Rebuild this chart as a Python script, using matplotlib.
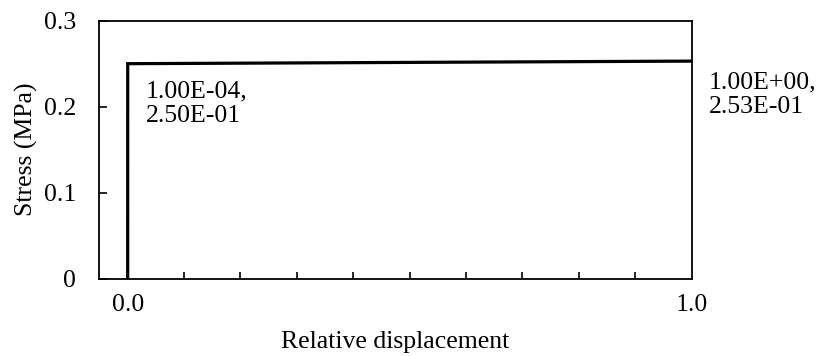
import matplotlib
matplotlib.use("Agg")
import matplotlib.pyplot as plt
from matplotlib.ticker import MultipleLocator, FixedLocator

plt.rcParams['font.family'] = ['Liberation Serif', 'DejaVu Serif']
plt.rcParams['font.size'] = 18.5

# data
displacement = [0.0, 1.0e-4, 1.0]
stress = [0.0, 0.25, 0.253]
label_first = "1.00E-04,\n2.50E-01"
label_last = "1.00E+00,\n2.53E-01"

fig = plt.figure(figsize=(8.2, 3.56), dpi=100)
ax = fig.add_axes([0.1213, 0.2171, 0.8435 - 0.1213, 0.9419 - 0.2171])

ax.plot(displacement, stress, color='black', linewidth=2.3, solid_joinstyle='miter')

ax.set_xlim(-0.05, 1.0)
ax.set_ylim(0, 0.3)

ax.xaxis.set_major_locator(FixedLocator([0.0, 1.0]))
ax.xaxis.set_minor_locator(FixedLocator([0.1 * i for i in range(1, 10)]))
ax.xaxis.set_major_formatter(plt.FuncFormatter(lambda v, p: f"{v:.1f}"))
ax.yaxis.set_major_locator(MultipleLocator(0.1))
ax.yaxis.set_major_formatter(plt.FuncFormatter(lambda v, p: "0" if v == 0 else f"{v:.1f}"))

ax.tick_params(axis='x', which='major', length=0, pad=11)
ax.tick_params(axis='x', which='minor', direction='in', length=5, width=1.2)
ax.tick_params(axis='y', which='major', direction='in', length=6, width=1.2, pad=17)

for s in ax.spines.values():
    s.set_linewidth(1.3)

ax.set_xlabel("Relative displacement", labelpad=11)
ax.set_ylabel("Stress (MPa)", labelpad=4)

ax.annotate(label_first, xy=(displacement[1], stress[1]), xytext=(18, -17),
            textcoords='offset pixels', ha='left', va='top', linespacing=1.15)
ax.annotate(label_last, xy=(displacement[2], stress[2]), xytext=(17, -10),
            textcoords='offset pixels', ha='left', va='top', linespacing=1.15,
            annotation_clip=False)

fig.savefig("out.png", dpi=100)
